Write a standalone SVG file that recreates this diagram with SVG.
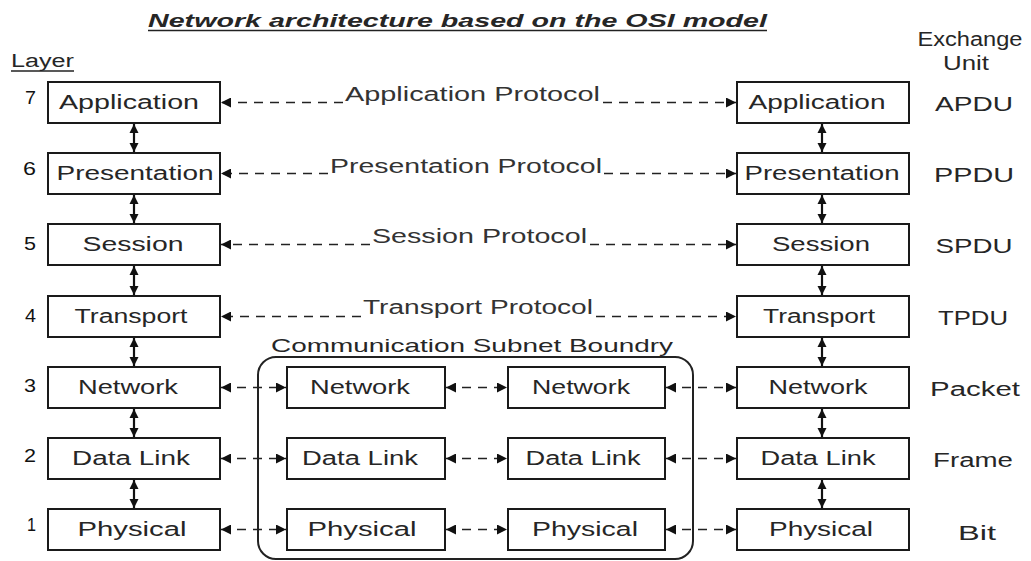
<svg xmlns="http://www.w3.org/2000/svg" width="1031" height="561" viewBox="0 0 1031 561">
<defs>
<style>
.t{font-family:"Liberation Sans",Arial,sans-serif;fill:#262626}
.bt{font-size:20px;text-anchor:middle}
.box{fill:#fff;stroke:#1a1a1a;stroke-width:2}
.num{font-size:19px;text-anchor:end;fill:#111}
.unit{font-size:20px;text-anchor:middle}
.proto{font-size:20px;fill:#333}
.dash{stroke:#222;stroke-width:1.6;stroke-dasharray:9 7;fill:none}
.vert{stroke:#111;stroke-width:2.2;fill:none}
.ul{stroke:#222;stroke-width:1.5}
</style>
<marker id="ah" viewBox="0 0 10 10" refX="10" refY="5" markerWidth="10" markerHeight="10" markerUnits="userSpaceOnUse" orient="auto-start-reverse"><path d="M0,0 L10,5 L0,10 z" fill="#111"/></marker>
<marker id="av" viewBox="0 0 10 10" refX="10" refY="5" markerWidth="9" markerHeight="11" markerUnits="userSpaceOnUse" orient="auto-start-reverse"><path d="M0,0 L10,5 L0,10 z" fill="#111"/></marker>
</defs>
<rect width="1031" height="561" fill="#fff"/>

<g id="title">
<text class="t" x="148" y="27" font-size="19" font-weight="bold" font-style="italic" fill="#111" textLength="619" lengthAdjust="spacingAndGlyphs">Network architecture based on the OSI model</text>
<line class="ul" x1="148" y1="30.5" x2="767" y2="30.5"/>
</g>
<g id="layer-heading">
<text class="t" x="11" y="67" font-size="18" textLength="63" lengthAdjust="spacingAndGlyphs">Layer</text>
<line class="ul" x1="11" y1="71" x2="74" y2="71"/>
</g>
<g id="exchange-heading">
<text class="t unit" x="970" y="46" font-size="18" textLength="105" lengthAdjust="spacingAndGlyphs">Exchange</text>
<text class="t unit" x="966" y="70" font-size="18" textLength="46" lengthAdjust="spacingAndGlyphs">Unit</text>
</g>

<g id="layer-numbers">
<text class="t num" x="36" y="104" textLength="11" lengthAdjust="spacingAndGlyphs">7</text>
<text class="t num" x="36" y="175" textLength="13" lengthAdjust="spacingAndGlyphs">6</text>
<text class="t num" x="36" y="250" textLength="12" lengthAdjust="spacingAndGlyphs">5</text>
<text class="t num" x="36" y="322" textLength="11" lengthAdjust="spacingAndGlyphs">4</text>
<text class="t num" x="36" y="392" textLength="12" lengthAdjust="spacingAndGlyphs">3</text>
<text class="t num" x="36" y="462" textLength="12" lengthAdjust="spacingAndGlyphs">2</text>
<text class="t num" x="36" y="531" textLength="9" lengthAdjust="spacingAndGlyphs">1</text>
</g>

<g id="exchange-units">
<text class="t unit" x="974" y="111" textLength="78" lengthAdjust="spacingAndGlyphs">APDU</text>
<text class="t unit" x="974" y="182" textLength="80" lengthAdjust="spacingAndGlyphs">PPDU</text>
<text class="t unit" x="974" y="253" textLength="77" lengthAdjust="spacingAndGlyphs">SPDU</text>
<text class="t unit" x="973" y="325" textLength="70" lengthAdjust="spacingAndGlyphs">TPDU</text>
<text class="t unit" x="975" y="396" textLength="90" lengthAdjust="spacingAndGlyphs">Packet</text>
<text class="t unit" x="973" y="467" textLength="80" lengthAdjust="spacingAndGlyphs">Frame</text>
<text class="t unit" x="977" y="540" textLength="38" lengthAdjust="spacingAndGlyphs">Bit</text>
</g>

<g id="subnet-boundary">
<rect x="258" y="357" width="435" height="202" rx="18" fill="none" stroke="#222" stroke-width="2"/>
<text class="t" x="271" y="352" font-size="19" textLength="402" lengthAdjust="spacingAndGlyphs">Communication Subnet Boundry</text>
</g>

<g id="connectors">
<line class="vert" x1="134" y1="124" x2="134" y2="152" marker-start="url(#av)" marker-end="url(#av)"/>
<line class="vert" x1="134" y1="195" x2="134" y2="223" marker-start="url(#av)" marker-end="url(#av)"/>
<line class="vert" x1="134" y1="266" x2="134" y2="295" marker-start="url(#av)" marker-end="url(#av)"/>
<line class="vert" x1="134" y1="338" x2="134" y2="366" marker-start="url(#av)" marker-end="url(#av)"/>
<line class="vert" x1="134" y1="409" x2="134" y2="437" marker-start="url(#av)" marker-end="url(#av)"/>
<line class="vert" x1="134" y1="480" x2="134" y2="508" marker-start="url(#av)" marker-end="url(#av)"/>
<line class="vert" x1="822" y1="124" x2="822" y2="152" marker-start="url(#av)" marker-end="url(#av)"/>
<line class="vert" x1="822" y1="195" x2="822" y2="223" marker-start="url(#av)" marker-end="url(#av)"/>
<line class="vert" x1="822" y1="266" x2="822" y2="295" marker-start="url(#av)" marker-end="url(#av)"/>
<line class="vert" x1="822" y1="338" x2="822" y2="366" marker-start="url(#av)" marker-end="url(#av)"/>
<line class="vert" x1="822" y1="409" x2="822" y2="437" marker-start="url(#av)" marker-end="url(#av)"/>
<line class="vert" x1="822" y1="480" x2="822" y2="508" marker-start="url(#av)" marker-end="url(#av)"/>
<line class="dash" x1="343" y1="102.5" x2="221" y2="102.5" marker-end="url(#ah)"/>
<line class="dash" x1="603" y1="102.5" x2="736" y2="102.5" marker-end="url(#ah)"/>
<line class="dash" x1="328" y1="173.5" x2="221" y2="173.5" marker-end="url(#ah)"/>
<line class="dash" x1="604" y1="173.5" x2="736" y2="173.5" marker-end="url(#ah)"/>
<line class="dash" x1="370" y1="244.5" x2="221" y2="244.5" marker-end="url(#ah)"/>
<line class="dash" x1="590" y1="244.5" x2="736" y2="244.5" marker-end="url(#ah)"/>
<line class="dash" x1="361" y1="316.5" x2="221" y2="316.5" marker-end="url(#ah)"/>
<line class="dash" x1="596" y1="316.5" x2="736" y2="316.5" marker-end="url(#ah)"/>
<line class="dash" x1="221" y1="387.5" x2="286" y2="387.5" marker-start="url(#ah)" marker-end="url(#ah)"/>
<line class="dash" x1="446" y1="387.5" x2="507" y2="387.5" marker-start="url(#ah)" marker-end="url(#ah)"/>
<line class="dash" x1="666" y1="387.5" x2="736" y2="387.5" marker-start="url(#ah)" marker-end="url(#ah)"/>
<line class="dash" x1="221" y1="458.5" x2="286" y2="458.5" marker-start="url(#ah)" marker-end="url(#ah)"/>
<line class="dash" x1="446" y1="458.5" x2="507" y2="458.5" marker-start="url(#ah)" marker-end="url(#ah)"/>
<line class="dash" x1="666" y1="458.5" x2="736" y2="458.5" marker-start="url(#ah)" marker-end="url(#ah)"/>
<line class="dash" x1="221" y1="529.5" x2="286" y2="529.5" marker-start="url(#ah)" marker-end="url(#ah)"/>
<line class="dash" x1="446" y1="529.5" x2="507" y2="529.5" marker-start="url(#ah)" marker-end="url(#ah)"/>
<line class="dash" x1="666" y1="529.5" x2="736" y2="529.5" marker-start="url(#ah)" marker-end="url(#ah)"/>
</g>

<g id="protocol-labels">
<text class="t proto" x="345" y="101" textLength="255" lengthAdjust="spacingAndGlyphs">Application Protocol</text>
<text class="t proto" x="330" y="173" textLength="272" lengthAdjust="spacingAndGlyphs">Presentation Protocol</text>
<text class="t proto" x="372" y="243" textLength="215" lengthAdjust="spacingAndGlyphs">Session Protocol</text>
<text class="t proto" x="363" y="314" textLength="230" lengthAdjust="spacingAndGlyphs">Transport Protocol</text>
</g>

<g id="left-application"><rect class="box" x="48" y="82" width="172" height="41"/><text class="t bt" x="129" y="109" textLength="140" lengthAdjust="spacingAndGlyphs">Application</text></g>
<g id="left-presentation"><rect class="box" x="48" y="153" width="172" height="41"/><text class="t bt" x="135" y="180" textLength="157" lengthAdjust="spacingAndGlyphs">Presentation</text></g>
<g id="left-session"><rect class="box" x="48" y="224" width="172" height="41"/><text class="t bt" x="133" y="251" textLength="101" lengthAdjust="spacingAndGlyphs">Session</text></g>
<g id="left-transport"><rect class="box" x="48" y="296" width="172" height="41"/><text class="t bt" x="131" y="323" textLength="113" lengthAdjust="spacingAndGlyphs">Transport</text></g>
<g id="left-network"><rect class="box" x="48" y="367" width="172" height="41"/><text class="t bt" x="128" y="394" textLength="100" lengthAdjust="spacingAndGlyphs">Network</text></g>
<g id="left-datalink"><rect class="box" x="48" y="438" width="172" height="41"/><text class="t bt" x="131" y="465" textLength="118" lengthAdjust="spacingAndGlyphs">Data Link</text></g>
<g id="left-physical"><rect class="box" x="48" y="509" width="172" height="41"/><text class="t bt" x="132" y="536" textLength="109" lengthAdjust="spacingAndGlyphs">Physical</text></g>

<g id="sub1-network"><rect class="box" x="287" y="367" width="158" height="41"/><text class="t bt" x="360" y="394" textLength="100" lengthAdjust="spacingAndGlyphs">Network</text></g>
<g id="sub1-datalink"><rect class="box" x="287" y="438" width="158" height="41"/><text class="t bt" x="360" y="465" textLength="116" lengthAdjust="spacingAndGlyphs">Data Link</text></g>
<g id="sub1-physical"><rect class="box" x="287" y="509" width="158" height="41"/><text class="t bt" x="362" y="536" textLength="109" lengthAdjust="spacingAndGlyphs">Physical</text></g>

<g id="sub2-network"><rect class="box" x="508" y="367" width="157" height="41"/><text class="t bt" x="581" y="394" textLength="98" lengthAdjust="spacingAndGlyphs">Network</text></g>
<g id="sub2-datalink"><rect class="box" x="508" y="438" width="157" height="41"/><text class="t bt" x="583" y="465" textLength="115" lengthAdjust="spacingAndGlyphs">Data Link</text></g>
<g id="sub2-physical"><rect class="box" x="508" y="509" width="157" height="41"/><text class="t bt" x="585" y="536" textLength="106" lengthAdjust="spacingAndGlyphs">Physical</text></g>

<g id="right-application"><rect class="box" x="737" y="82" width="172" height="41"/><text class="t bt" x="817" y="109" textLength="137" lengthAdjust="spacingAndGlyphs">Application</text></g>
<g id="right-presentation"><rect class="box" x="737" y="153" width="172" height="41"/><text class="t bt" x="822" y="180" textLength="155" lengthAdjust="spacingAndGlyphs">Presentation</text></g>
<g id="right-session"><rect class="box" x="737" y="224" width="172" height="41"/><text class="t bt" x="821" y="251" textLength="98" lengthAdjust="spacingAndGlyphs">Session</text></g>
<g id="right-transport"><rect class="box" x="737" y="296" width="172" height="41"/><text class="t bt" x="819" y="323" textLength="112" lengthAdjust="spacingAndGlyphs">Transport</text></g>
<g id="right-network"><rect class="box" x="737" y="367" width="172" height="41"/><text class="t bt" x="818" y="394" textLength="99" lengthAdjust="spacingAndGlyphs">Network</text></g>
<g id="right-datalink"><rect class="box" x="737" y="438" width="172" height="41"/><text class="t bt" x="818" y="465" textLength="115" lengthAdjust="spacingAndGlyphs">Data Link</text></g>
<g id="right-physical"><rect class="box" x="737" y="509" width="172" height="41"/><text class="t bt" x="821" y="536" textLength="104" lengthAdjust="spacingAndGlyphs">Physical</text></g>
</svg>
